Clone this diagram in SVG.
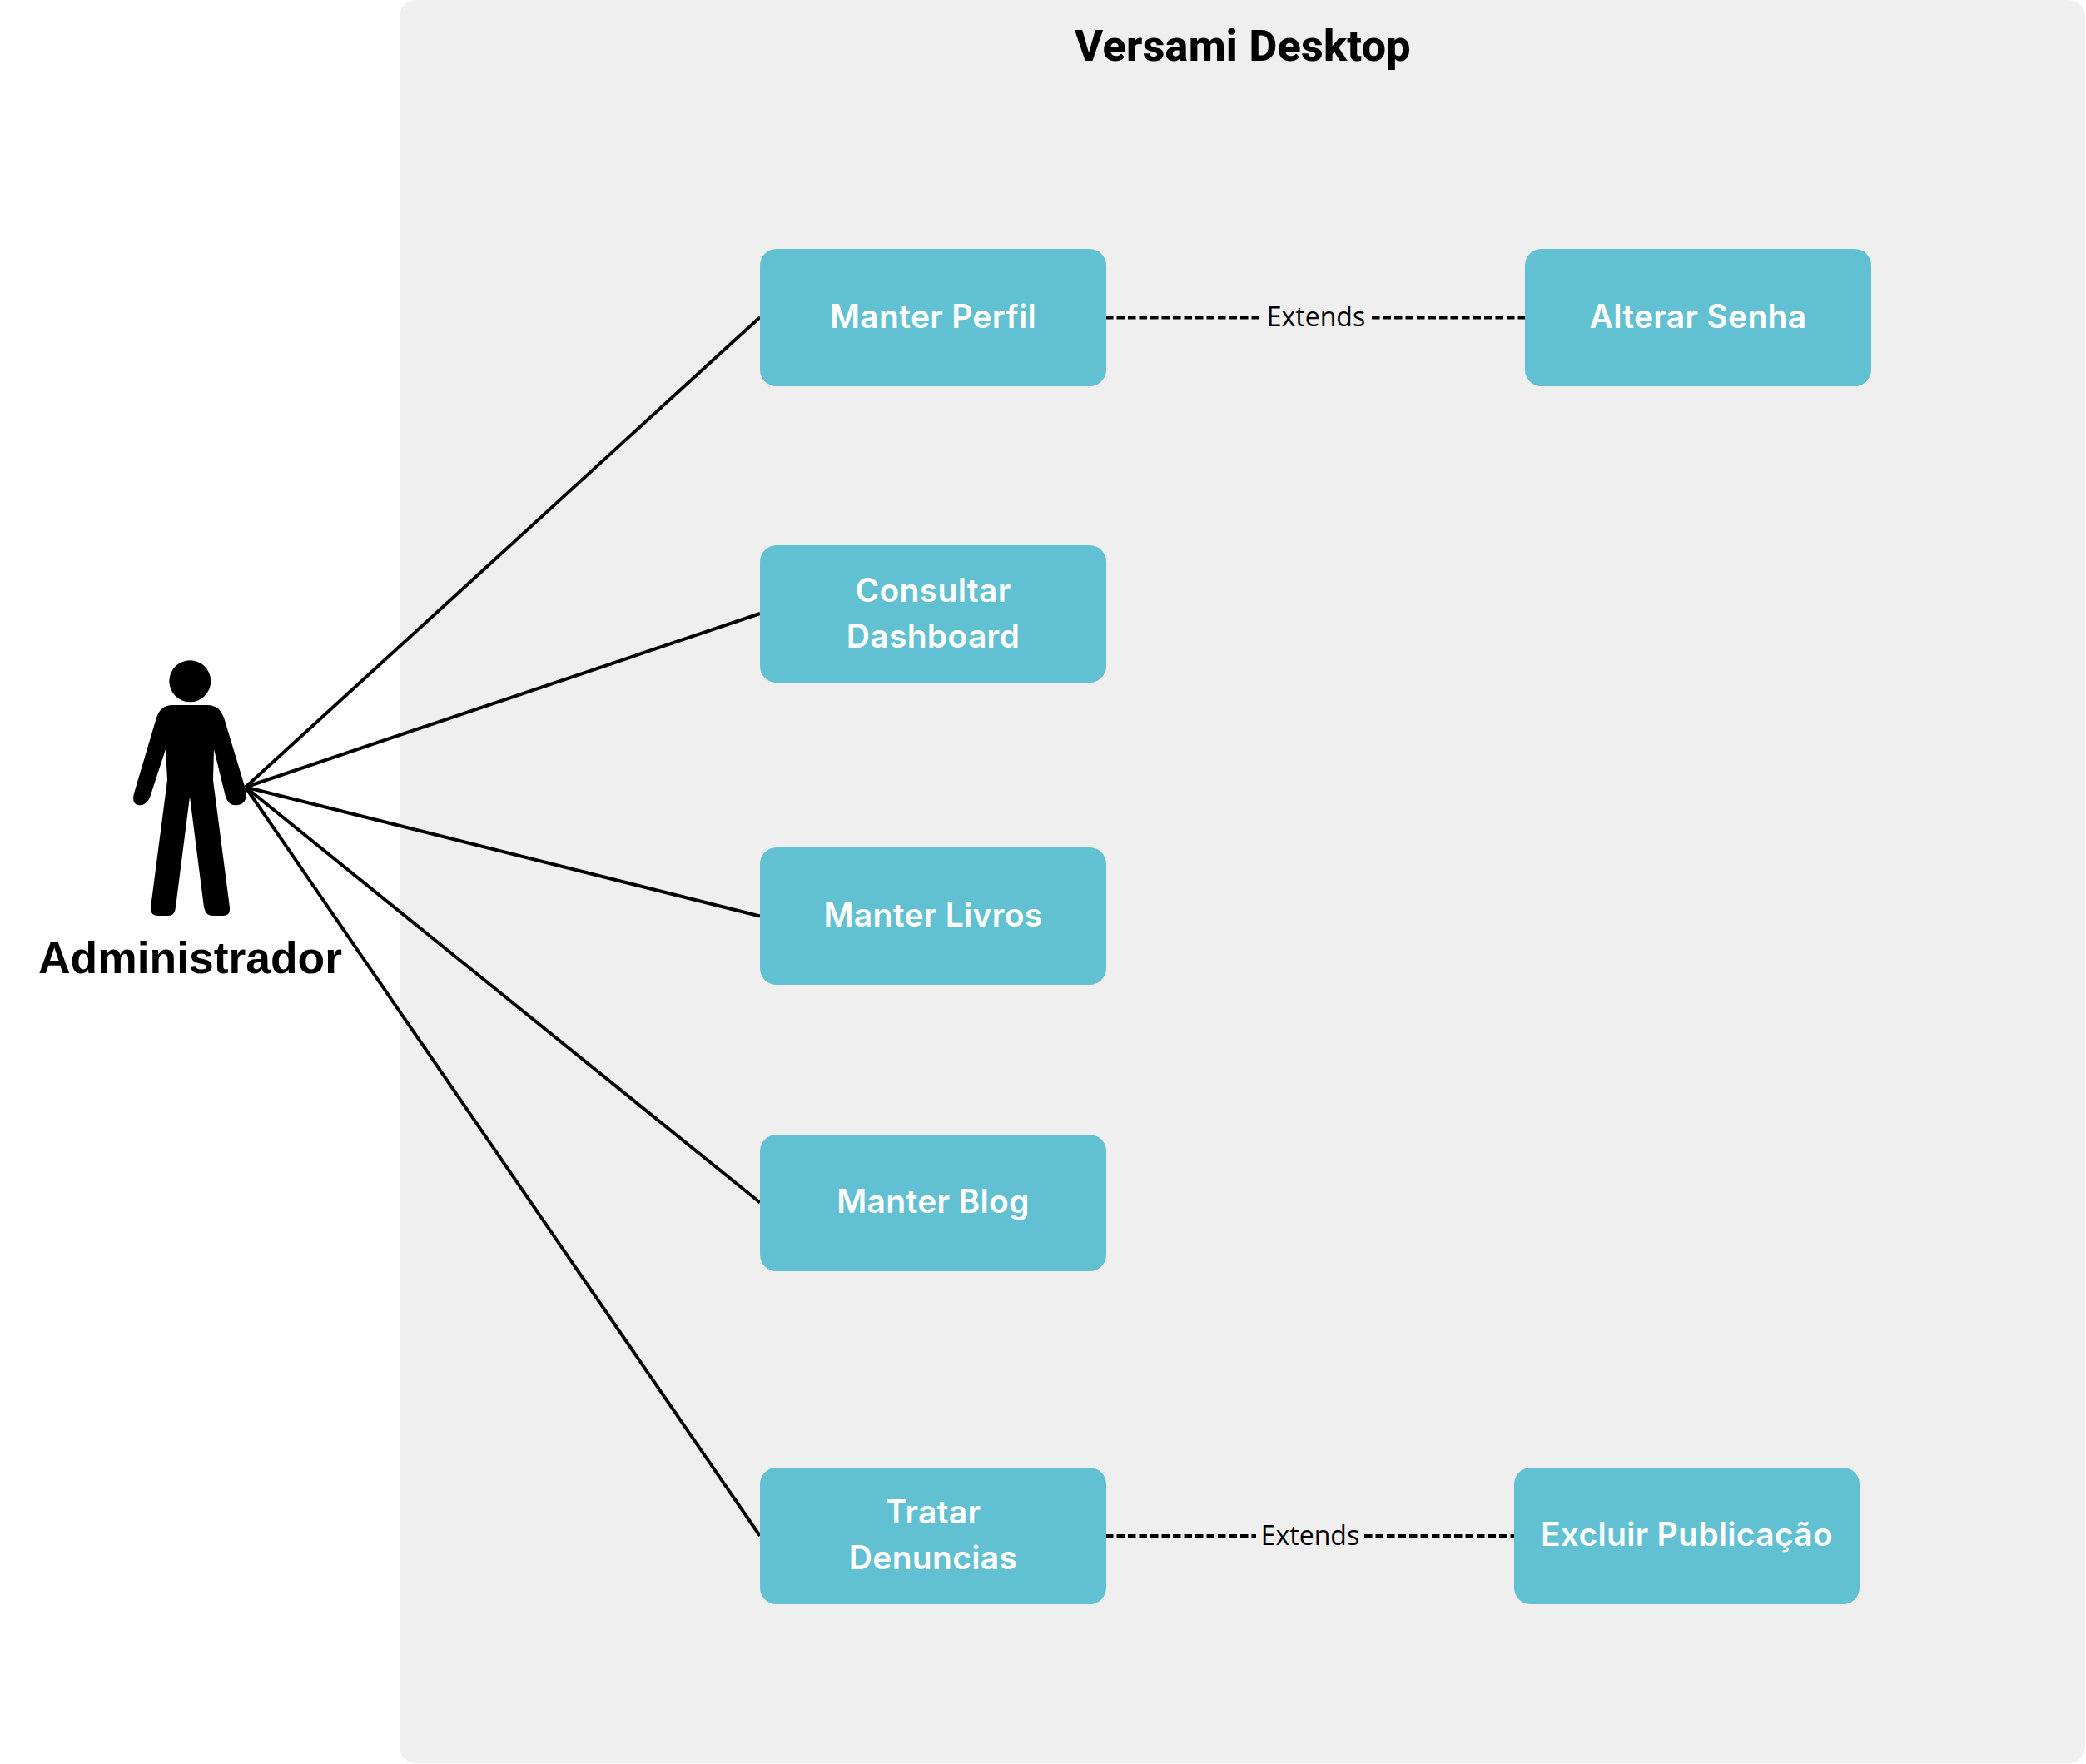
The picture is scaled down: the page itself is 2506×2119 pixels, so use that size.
<svg xmlns="http://www.w3.org/2000/svg" width="2506" height="2119" viewBox="0 0 2506 2119">
<style>
.node{fill:#61c0d1}
.lbl{font-family:Inter,"Noto Sans",sans-serif;font-weight:600;font-size:39px;letter-spacing:.3px;fill:#fff;text-anchor:middle}
.assoc{stroke:#000;stroke-width:4;fill:none;stroke-linecap:butt}
.ext{stroke:#000;stroke-width:4;fill:none;stroke-dasharray:9.500 4}
.ext-label{font-family:"Open Sans","Noto Sans",sans-serif;font-size:32px;fill:#000;text-anchor:middle}
</style>
<rect width="2506" height="2119" fill="#fff"/>
<g id="system">
<rect x="480" y="0" width="2025" height="2118" rx="20" fill="#efefef"/>
<text x="1493" y="73" font-family="Roboto,'Liberation Sans',sans-serif" font-weight="800" font-size="52" letter-spacing=".3" text-anchor="middle" fill="#000">Versami Desktop</text>
</g>
<g id="connectors">
<line class="assoc" x1="295" y1="945.500" x2="913" y2="381"/>
<line class="assoc" x1="295" y1="945.500" x2="913" y2="737"/>
<line class="assoc" x1="295" y1="945.500" x2="913" y2="1100.500"/>
<line class="assoc" x1="295" y1="945.500" x2="913" y2="1444.500"/>
<line class="assoc" x1="295" y1="945.500" x2="913" y2="1845"/>
<line class="ext" x1="1328" y1="381.500" x2="1516" y2="381.500"/>
<line class="ext" x1="1648" y1="381.500" x2="1832" y2="381.500"/>
<text class="ext-label" x="1581" y="392">Extends</text>
<line class="ext" x1="1328" y1="1845" x2="1509" y2="1845"/>
<line class="ext" x1="1639" y1="1845" x2="1819" y2="1845"/>
<text class="ext-label" x="1574" y="1856">Extends</text>
</g>
<g id="actor">
<circle cx="228.300" cy="818.300" r="25"/>
<path d="M207 847H249Q264 847 269 862L295 948Q298 966 286 967Q275 969 271 957L257 900L256 937L276 1090Q277 1100 268 1100H256Q247 1100 245 1090L228 957L211 1090Q210 1100 202 1100H190Q180 1100 181 1090L201 937L199 900L180 958Q175 969 165 967Q158 964 161 953L188 862Q193 847 207 847Z"/>
<text x="228.500" y="1169" font-family="'Liberation Sans',Arial,sans-serif" font-weight="700" font-size="53.400" text-anchor="middle" fill="#000">Administrador</text>
</g>
<g id="manter-perfil"><rect class="node" x="913" y="299" width="416" height="165" rx="20"/><text class="lbl" x="1121" y="394">Manter Perfil</text></g>
<g id="consultar-dashboard"><rect class="node" x="913" y="655" width="416" height="165" rx="20"/><text class="lbl" x="1121" y="723">Consultar</text><text class="lbl" x="1121" y="778">Dashboard</text></g>
<g id="manter-livros"><rect class="node" x="913" y="1018" width="416" height="165" rx="20"/><text class="lbl" x="1121" y="1113">Manter Livros</text></g>
<g id="manter-blog"><rect class="node" x="913" y="1363" width="416" height="164" rx="20"/><text class="lbl" x="1121" y="1457">Manter Blog</text></g>
<g id="tratar-denuncias"><rect class="node" x="913" y="1763" width="416" height="164" rx="20"/><text class="lbl" x="1121" y="1830">Tratar</text><text class="lbl" x="1121" y="1885">Denuncias</text></g>
<g id="alterar-senha"><rect class="node" x="1832" y="299" width="416" height="165" rx="20"/><text class="lbl" x="2040" y="394">Alterar Senha</text></g>
<g id="excluir-publicacao"><rect class="node" x="1819" y="1763" width="415" height="164" rx="20"/><text class="lbl" x="2026.500" y="1857">Excluir Publicação</text></g>
</svg>
